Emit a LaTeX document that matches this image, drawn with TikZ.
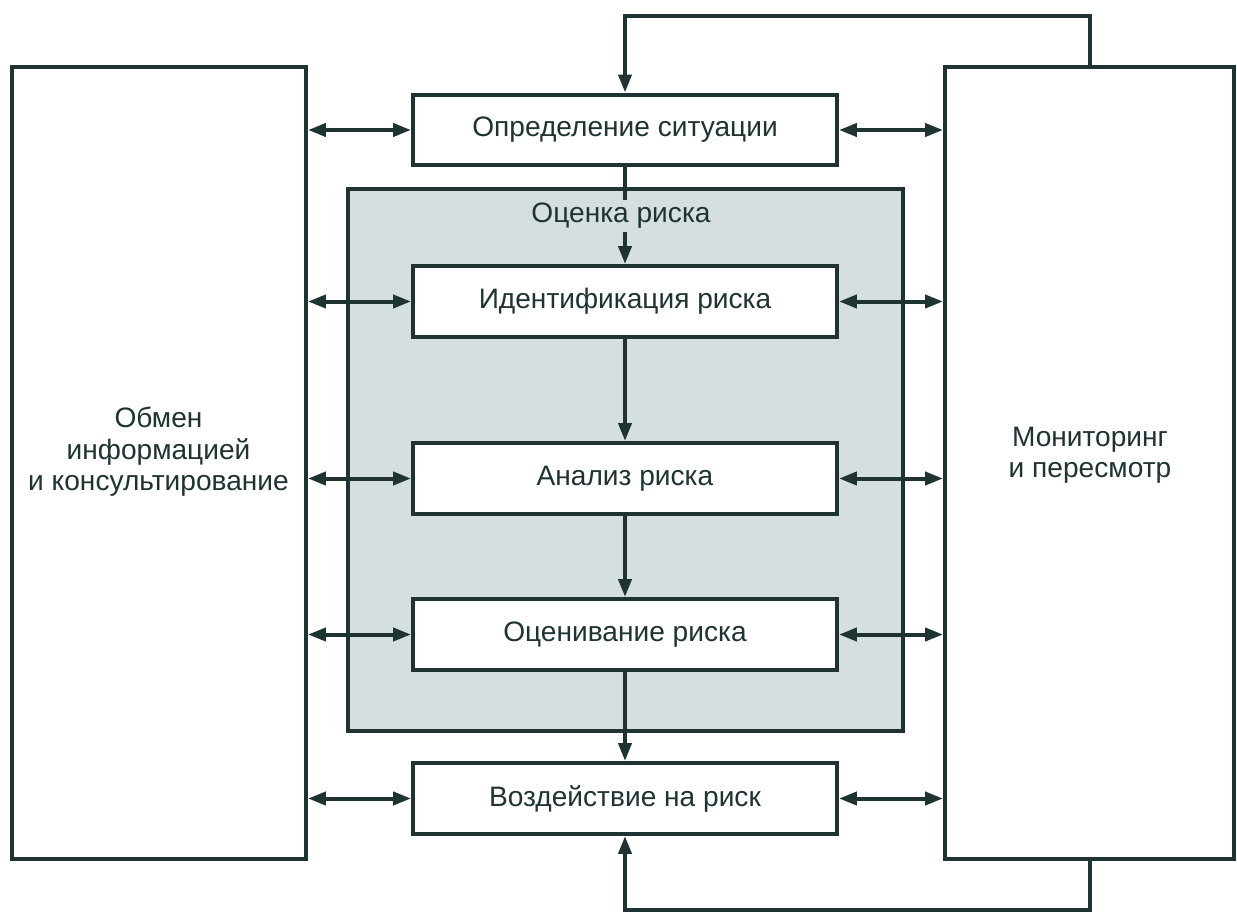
\documentclass[tikz,border=0pt]{standalone}
\usepackage{fontspec}
\setmainfont{Liberation Sans}
\usetikzlibrary{arrows.meta}
\definecolor{ln}{HTML}{1F3333}
\definecolor{grayfill}{HTML}{D5DFE0}
\begin{document}
\begin{tikzpicture}[x=0.02cm,y=-0.02cm,
  every node/.style={font=\fontsize{16}{17.9}\selectfont, text=ln},
  frame/.style={draw=ln, line width=0.08cm, fill=white, inner sep=0pt},
  midbox/.style={frame, minimum width=8.48cm, minimum height=1.42cm},
  conn/.style={draw=ln, line width=0.08cm, -{Triangle[length=0.36cm,width=0.26cm]}},
  biconn/.style={draw=ln, line width=0.08cm, {Triangle[length=0.36cm,width=0.26cm]}-{Triangle[length=0.36cm,width=0.26cm]}},
  label/.style={align=center, inner sep=0pt}]
\useasboundingbox (0,0) rectangle (1237,912);
\fill[white] (0,0) rectangle (1237,912);
% side boxes
\node[frame, minimum width=5.88cm, minimum height=15.84cm] (L) at (159,463) {};
\node[frame, minimum width=5.78cm, minimum height=15.84cm] (R) at (1089.5,463) {};
\node[label] (Lt) at (158.5,452) {Обмен\\информацией\\и консультирование};
\node[label] (Rt) at (1090,455) {Мониторинг\\и пересмотр};
% gray assessment box
\node[frame, fill=grayfill, minimum width=11.1cm, minimum height=10.84cm] (G) at (625.5,460) {};
% middle boxes
\node[midbox] (O) at (625,130) {Определение ситуации};
\node[midbox] (I) at (625,301.5) {Идентификация риска};
\node[midbox] (A) at (625,478.5) {Анализ риска};
\node[midbox] (E) at (625,634.5) {Оценивание риска};
\node[midbox] (V) at (625,798.5) {Воздействие на риск};
% vertical flow
\draw[conn] (O.south) -- (I.north);
\draw[conn] (I.south) -- (A.north);
\draw[conn] (A.south) -- (E.north);
\draw[conn] (E.south) -- (V.north);
\node[label, fill=grayfill, inner sep=2pt] (Gt) at (621,216) {Оценка риска};
% horizontal links
\foreach \n in {O,I,A,E,V}{
  \draw[biconn] (\n.west -| L.east) -- (\n.west);
  \draw[biconn] (\n.east) -- (\n.east -| R.west);
}
% feedback loops
\draw[conn] (R.north) -- ++(0,-49) -| (O.north);
\draw[conn] (R.south) -- ++(0,49) -| (V.south);
\end{tikzpicture}
\end{document}
